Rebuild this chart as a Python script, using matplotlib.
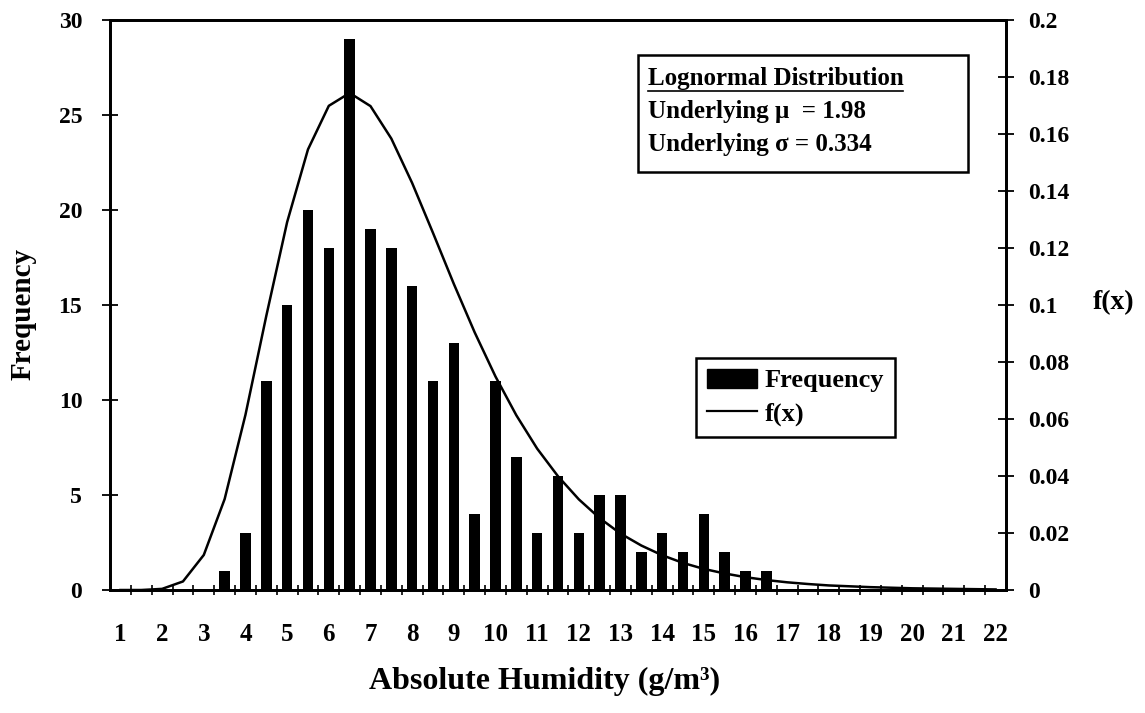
import numpy as np
import matplotlib
matplotlib.use("Agg")
import matplotlib.pyplot as plt
from matplotlib.patches import Patch, Rectangle
from matplotlib.lines import Line2D

# humidity classes (g/m3), every half unit from 1 to 22
bins = np.arange(1, 22.5, 0.5)
freq = [0, 0, 0, 0, 0, 1, 3, 11, 15, 20, 18, 29, 19, 18, 16, 11, 13, 4, 11, 7,
        3, 6, 3, 5, 5, 2, 3, 2, 4, 2, 1, 1, 0, 0, 0, 0, 0, 0, 0, 0, 0, 0, 0]
fx = [0.0, 0.0, 0.0004, 0.0030, 0.0123, 0.0319, 0.0615, 0.0962, 0.1291, 0.1546,
      0.1699, 0.1744, 0.1698, 0.1584, 0.1428, 0.1253, 0.1074, 0.0904, 0.0749, 0.0613,
      0.0496, 0.0399, 0.0318, 0.0252, 0.0198, 0.0156, 0.0122, 0.0095, 0.0074, 0.0058,
      0.0045, 0.0035, 0.0027, 0.0021, 0.0016, 0.0013, 0.0010, 0.0008, 0.0006, 0.0005,
      0.0004, 0.0003, 0.0002]
xlabels = [str(i) for i in range(1, 23)]
box_lines = ["Lognormal Distribution", "Underlying \u03bc  = 1.98", "Underlying \u03c3 = 0.334"]

plt.rcParams["font.family"] = ["Liberation Serif", "DejaVu Serif"]
plt.rcParams["font.weight"] = "bold"

fig = plt.figure(figsize=(11.45, 7.13), dpi=100)
ax = fig.add_axes([0.0961, 0.1725, 0.7825, 0.7994])
ax2 = ax.twinx()

ax.bar(bins, freq, width=0.25, color="black", zorder=2)
ax2.plot(bins, fx, color="black", lw=1.8, zorder=3)

ax.set_xlim(0.75, 22.25)
ax.set_ylim(0, 30)
ax2.set_ylim(0, 0.2)

ax.set_xticks(range(1, 23))
ax.set_xticklabels(xlabels)
ax.set_xticks(np.arange(1.25, 22, 0.5), minor=True)
ax.tick_params(axis="x", which="major", length=0, pad=24, labelsize=18)
ax.tick_params(axis="x", which="minor", direction="inout", length=7, width=1.2)
ax.set_yticks(range(0, 31, 5))
ax.tick_params(axis="y", direction="inout", length=12, width=1.3, pad=14, labelsize=17)
yt = np.arange(0, 0.201, 0.02)
ax2.set_yticks(yt)
ax2.set_yticklabels([f"{v:g}" for v in yt])
ax2.tick_params(axis="y", direction="inout", length=12, width=1.3, pad=10, labelsize=17)

for a in (ax, ax2):
    for s in a.spines.values():
        s.set_linewidth(2)

ax.set_ylabel("Frequency", fontsize=21, fontweight="bold", va="center", ha="center")
ax.yaxis.set_label_coords(-0.097, 0.485)
ax.set_xlabel("Absolute Humidity (g/m\u00b3)", fontsize=23, fontweight="bold", va="center")
ax.xaxis.set_label_coords(0.485, -0.16)
ax2.set_ylabel("f(x)", fontsize=20, fontweight="bold", rotation=0, va="center", ha="center")
ax2.yaxis.set_label_coords(1.12, 0.505)

# parameter box
ax2.add_patch(Rectangle((0.589, 0.733), 0.369, 0.206, transform=ax2.transAxes,
                        fill=True, facecolor="white", edgecolor="black", lw=1.8, zorder=5))
tts = []
for yy, txt in zip([0.898, 0.839, 0.781], box_lines):
    tts.append(ax2.text(0.600, yy, txt, transform=ax2.transAxes, fontsize=18,
                        fontweight="bold", va="center", ha="left", zorder=6))

handles = [Patch(facecolor="black", edgecolor="black"), Line2D([], [], color="black", lw=1.6)]
leg = ax2.legend(handles, ["Frequency", "f(x)"], loc="upper left", bbox_to_anchor=(0.654, 0.407),
                 borderaxespad=0, fancybox=False, framealpha=1, edgecolor="black",
                 prop={"size": 19, "weight": "bold"}, handlelength=1.9, handleheight=0.75,
                 handletextpad=0.3, borderpad=0.4, labelspacing=0.35)
leg.get_frame().set_linewidth(1.8)

# underline first line of the box
fig.canvas.draw()
bb = tts[0].get_window_extent()
inv = fig.transFigure.inverted()
(x0, y0), (x1, _) = inv.transform([(bb.x0, bb.y0 - 1), (bb.x1, bb.y0 - 1)])
fig.add_artist(Line2D([x0, x1], [y0, y0], color="black", lw=1.2, transform=fig.transFigure))

fig.savefig("out.png", dpi=100)
